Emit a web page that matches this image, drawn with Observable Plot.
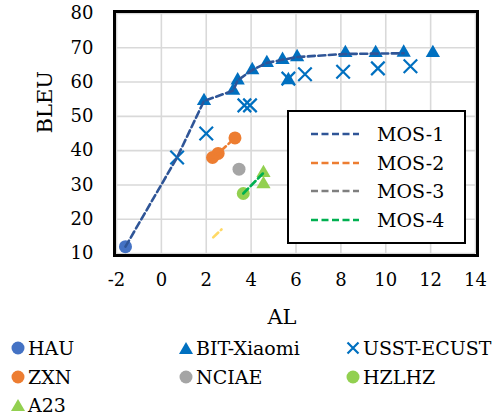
<!DOCTYPE html>
<html>
<head>
<meta charset="utf-8">
<script src="https://cdn.jsdelivr.net/npm/d3@7"></script>
<script src="https://cdn.jsdelivr.net/npm/@observablehq/plot@0.6"></script>
<style>
  html, body { margin: 0; padding: 0; background: white; }
  #wrap { position: relative; width: 494px; height: 417px; font-family: "DejaVu Serif", serif; color: #000; }
  #inlegend { position: absolute; left: 287px; top: 110px; width: 175px; height: 130px; border: 2.5px solid #000; background: #fff; }
  .li { position: absolute; left: 0; height: 28px; display: flex; align-items: center; font-size: 19px; }
  .li svg { margin-left: 22px; margin-right: 18px; }
  #botlegend { position: absolute; left: 0; top: 334px; width: 494px; }
  .bi { position: absolute; display: flex; align-items: center; font-size: 19px; height: 28px; }
  .bi svg { margin-right: 3px; }
</style>
</head>
<body>
<div id="wrap"></div>
<script>
// ---------- data ----------
const xTicks = [-2, 0, 2, 4, 6, 8, 10, 12, 14];
const yTicks = [10, 20, 30, 40, 50, 60, 70, 80];

const hauX = [-1.6];
const hauY = [12];

const bitX = [1.9, 3.2, 3.4, 4.05, 4.7, 5.4, 5.66, 6.05, 8.2, 9.55, 10.8, 12.1];
const bitY = [54.5, 57.5, 60.5, 63.5, 65.6, 66.5, 60.6, 67.3, 68.5, 68.5, 68.6, 68.5];

const usstX = [0.7, 2.0, 3.7, 3.95, 5.66, 6.4, 8.1, 9.65, 11.1];
const usstY = [38, 45, 53.2, 53.2, 61, 62.3, 63, 64, 64.6];

const zxnX = [2.28, 2.53, 3.28];
const zxnY = [38, 39.2, 43.7];

const nciaeX = [3.46];
const nciaeY = [34.6];

const hzlhzX = [3.65];
const hzlhzY = [27.5];

const a23X = [4.55, 4.55];
const a23Y = [33.5, 30.2];

const mos1X = [-1.6, 0.7, 1.9, 3.2, 3.4, 4.05, 4.7, 5.4, 6.05, 8.2, 9.55, 10.8];
const mos1Y = [12, 38, 54.5, 57.5, 60.5, 63.5, 65.6, 66.5, 67.3, 68.2, 68.3, 68.4];
const mos2X = [2.28, 2.53, 3.28];
const mos2Y = [38, 39.2, 43.7];
const mos3X = [3.46];
const mos3Y = [34.6];
const mos4X = [3.65, 4.55];
const mos4Y = [27.5, 33.5];
const mos5X = [2.31, 2.68];
const mos5Y = [14.7, 17];

const lineNames = ["MOS-1", "MOS-2", "MOS-3", "MOS-4"];
const lineColors = ["#2F5597", "#ED7D31", "#7F7F7F", "#00B050"];

const pointNames = ["HAU", "BIT-Xiaomi", "USST-ECUST", "ZXN", "NCIAE", "HZLHZ", "A23"];
const pointColors = ["#4472C4", "#0070C0", "#0070C0", "#ED7D31", "#A5A5A5", "#92D050", "#92D050"];
const pointSymbols = ["circle", "triangle", "times", "circle", "circle", "circle", "triangle"];

// ---------- helpers ----------
const pts = (xs, ys) => xs.map((x, i) => ({x, y: ys[i]}));
const dash = "7,3.5";

const dotMark = (xs, ys, k) => {
  const sym = pointSymbols[k];
  const col = pointColors[k];
  if (sym === "times") {
    return Plot.dot(pts(xs, ys), {x: "x", y: "y", symbol: "times", r: 6.2, stroke: col, strokeWidth: 2.2});
  }
  return Plot.dot(pts(xs, ys), {x: "x", y: "y", symbol: sym, r: sym === "triangle" ? 5.3 : 6.5, fill: col, stroke: "none"});
};
const lineMark = (xs, ys, col) =>
  Plot.line(pts(xs, ys), {x: "x", y: "y", stroke: col, strokeWidth: 2.6, strokeDasharray: dash});

const chart = Plot.plot({
  width: 494,
  height: 330,
  marginTop: 13,
  marginBottom: 77,
  marginLeft: 116,
  marginRight: 19,
  style: {fontFamily: "DejaVu Serif", fontSize: "18px", color: "#000", background: "white", overflow: "visible"},
  x: {domain: [-2, 14]},
  y: {domain: [10, 80]},
  marks: [
    Plot.gridX(xTicks, {stroke: "#d9d9d9", strokeOpacity: 1, strokeWidth: 1.6}),
    Plot.gridY(yTicks, {stroke: "#d9d9d9", strokeOpacity: 1, strokeWidth: 1.6}),
    Plot.axisX(xTicks, {tickSize: 0, tickPadding: 20, label: null, tickFormat: d => String(d), fontSize: 18}),
    Plot.axisY(yTicks, {tickSize: 0, tickPadding: 23, label: null, tickFormat: d => String(d), fontSize: 18}),
    Plot.text(["BLEU"], {frameAnchor: "left", rotate: -90, dx: -71, fontSize: 21, lineAnchor: "middle"}),
    Plot.text(["AL"], {frameAnchor: "bottom", dy: 64, dx: -14, fontSize: 21, lineAnchor: "middle"}),
    dotMark(hauX, hauY, 0),
    dotMark(bitX, bitY, 1),
    dotMark(usstX, usstY, 2),
    dotMark(zxnX, zxnY, 3),
    dotMark(nciaeX, nciaeY, 4),
    dotMark(hzlhzX, hzlhzY, 5),
    dotMark(a23X, a23Y, 6),
    lineMark(mos1X, mos1Y, lineColors[0]),
    lineMark(mos2X, mos2Y, lineColors[1]),
    lineMark(mos3X, mos3Y, lineColors[2]),
    lineMark(mos4X, mos4Y, lineColors[3]),
    lineMark(mos5X, mos5Y, "#FFD966"),
    Plot.frame({stroke: "#000", strokeWidth: 3, inset: -2})
  ]
});

const wrap = document.getElementById("wrap");
wrap.appendChild(chart);

// in-plot legend (lines)
const inl = document.createElement("div");
inl.id = "inlegend";
lineNames.forEach((name, i) => {
  const row = document.createElement("div");
  row.className = "li";
  row.style.top = (8 + i * 28.5) + "px";
  row.innerHTML = `<svg width="48" height="6"><line x1="0" y1="3" x2="48" y2="3" stroke="${lineColors[i]}" stroke-width="2.6" stroke-dasharray="${dash}"/></svg><span>${name}</span>`;
  inl.appendChild(row);
});
wrap.appendChild(inl);

// bottom legend (points)
const bl = document.createElement("div");
bl.id = "botlegend";
const colX = [11, 179, 346];
pointNames.forEach((name, i) => {
  const item = document.createElement("div");
  item.className = "bi";
  item.style.left = colX[i % 3] + "px";
  item.style.top = (Math.floor(i / 3) * 28.5) + "px";
  const c = pointColors[i];
  let g;
  if (pointSymbols[i] === "circle") g = `<circle cx="7" cy="7" r="6.5" fill="${c}"/>`;
  else if (pointSymbols[i] === "triangle") g = `<path d="M7,1 L14,13 L0,13 Z" fill="${c}"/>`;
  else g = `<path d="M1.5,1.5 L12.5,12.5 M12.5,1.5 L1.5,12.5" stroke="${c}" stroke-width="2.2"/>`;
  item.innerHTML = `<svg width="14" height="14">${g}</svg><span>${name}</span>`;
  bl.appendChild(item);
});
wrap.appendChild(bl);
</script>
</body>
</html>
